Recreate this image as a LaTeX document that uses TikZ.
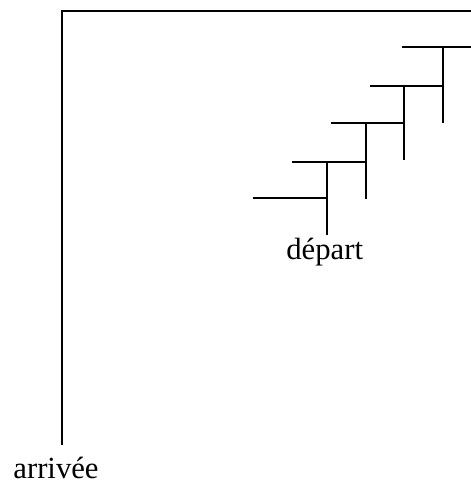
\documentclass[tikz,border=0pt]{standalone}
\usepackage{fontspec}
\setmainfont{Liberation Serif}
\begin{document}
\begin{tikzpicture}[x=1pt,y=-1pt]
        \tikzstyle{edge_style} = [draw=black,line width=2.3pt]
        \tikzstyle{label_style} = [inner sep=0pt,anchor=base,font=\fontsize{30.7}{36}\selectfont]
        \useasboundingbox (0,0) rectangle (471,482);
        % big corner
        \coordinate (c1) at (62.3,445);
        \coordinate (c2) at (62.3,11);
        \coordinate (c3) at (471,11);
        \draw[edge_style] (c1) -- (c2) -- (c3);
        % steps
        \coordinate (h1a) at (253.3,198.3);
        \coordinate (h1b) at (327.3,198.3);
        \coordinate (h2a) at (292.3,161.7);
        \coordinate (h2b) at (365.7,161.7);
        \coordinate (h3a) at (331,123);
        \coordinate (h3b) at (404,123);
        \coordinate (h4a) at (370,86);
        \coordinate (h4b) at (443.3,86);
        \coordinate (h5a) at (402.3,46.7);
        \coordinate (h5b) at (471,46.7);
        \coordinate (v1b) at (327.3,235);
        \coordinate (v2b) at (365.7,199);
        \coordinate (v3b) at (404,160);
        \coordinate (v4b) at (443.3,123.3);
        \draw[edge_style] (h1a) -- (h1b);
        \draw[edge_style] (h2a) -- (h2b);
        \draw[edge_style] (h3a) -- (h3b);
        \draw[edge_style] (h4a) -- (h4b);
        \draw[edge_style] (h5a) -- (h5b);
        \draw[edge_style] (h2a -| h1b) -- (v1b);
        \draw[edge_style] (h3a -| h2b) -- (v2b);
        \draw[edge_style] (h4a -| h3b) -- (v3b);
        \draw[edge_style] (h5a -| h4b) -- (v4b);
        % labels
        \node[label_style] (depart) at (324.7,259) {départ};
        \node[label_style] (arrivee) at (56,478) {arrivée};
\end{tikzpicture}
\end{document}
